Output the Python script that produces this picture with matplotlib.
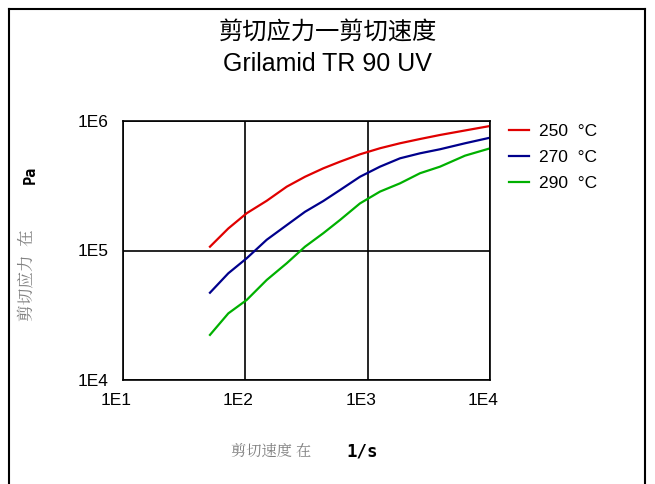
import numpy as np
import matplotlib.pyplot as plt
import matplotlib.transforms as mtransforms
from matplotlib.lines import Line2D

plt.rcParams['font.family'] = ['Liberation Sans', 'Noto Sans CJK SC', 'DejaVu Sans']

# data
shear_rate = [51.4, 72.6, 102.6, 149.5, 217.9, 307.4, 433.7, 594, 865,
              1261, 1837, 2678, 3902, 6249, 10000]
stress_250 = [1.07e5, 1.48e5, 1.94e5, 2.42e5, 3.11e5, 3.71e5, 4.31e5, 4.85e5, 5.53e5,
              6.16e5, 6.73e5, 7.26e5, 7.80e5, 8.45e5, 9.15e5]
stress_270 = [4.72e4, 6.67e4, 8.71e4, 1.21e5, 1.57e5, 1.99e5, 2.41e5, 2.93e5, 3.71e5,
              4.44e5, 5.15e5, 5.63e5, 6.05e5, 6.73e5, 7.43e5]
stress_290 = [2.23e4, 3.27e4, 4.15e4, 5.92e4, 7.97e4, 1.07e5, 1.36e5, 1.72e5, 2.31e5,
              2.85e5, 3.30e5, 3.95e5, 4.44e5, 5.40e5, 6.15e5]
labels = ['250  °C', '270  °C', '290  °C']
colors = ['#e00000', '#00008c', '#00b000']
x_ticks = [10, 100, 1000, 10000]
x_labels = ['1E1', '1E2', '1E3', '1E4']
y_ticks = [1e4, 1e5, 1e6]
y_labels = ['1E4', '1E5', '1E6']

fig = plt.figure(figsize=(6.55, 4.84), dpi=100)
ax = fig.add_axes([123/655, 1-380/484, (490-123)/655, (380-121)/484])

for ys, lab, c in zip([stress_250, stress_270, stress_290], labels, colors):
    ax.plot(shear_rate, ys, color=c, lw=1.6, label=lab)

ax.set_xscale('log')
ax.set_yscale('log')
ax.set_xlim(10, 10000)
ax.set_ylim(1e4, 1e6)
ax.set_xticks(x_ticks)
ax.set_xticklabels(x_labels)
ax.set_yticks(y_ticks)
ax.set_yticklabels(y_labels)
ax.minorticks_off()
ax.tick_params(length=0, labelsize=12.5)
ax.tick_params(axis='y', pad=10.5)
ax.tick_params(axis='x', pad=9.5)
shift = mtransforms.ScaledTranslation(-7/100, 0, fig.dpi_scale_trans)
for lbl in ax.get_xticklabels():
    lbl.set_transform(lbl.get_transform() + shift)
ax.grid(True, color='black', lw=1.2)
for sp in ax.spines.values():
    sp.set_linewidth(1.2)

leg = ax.legend(loc='upper left', bbox_to_anchor=(1.0, 1.06), frameon=False,
                fontsize=12.5, handlelength=1.15, handletextpad=0.6, labelspacing=0.62,
                borderaxespad=0.68)

fig.text(0.5, 1-32/484, '剪切应力一剪切速度', ha='center', va='center', fontsize=17.5,
         family=['Noto Sans CJK SC'])
fig.text(0.5, 1-64/484, 'Grilamid TR 90 UV', ha='center', va='center', fontsize=18)

# axis labels: chinese part in gray, unit in black
fig.text(28/655, 1-275/484, '剪切应力  在', rotation=90, ha='center', va='center',
         fontsize=12, color='#808080', family=['Noto Serif CJK SC', 'Noto Sans CJK SC'])
fig.text(30/655, 1-175/484, 'Pa', rotation=90, ha='center', va='center',
         fontsize=11, color='black', family=['DejaVu Sans Mono'], weight='bold')
fig.text(271/655, 1-452/484, '剪切速度 在', ha='center', va='center',
         fontsize=11, color='#808080', family=['Noto Serif CJK SC', 'Noto Sans CJK SC'])
fig.text(362/655, 1-452/484, '1/s', ha='center', va='center',
         fontsize=12.5, color='black', family=['DejaVu Sans Mono'], weight='bold')

# outer frame, open at the bottom
fx0, fx1, fy1 = 9/655, 645/655, 1-9/484
for xs, ys in [([fx0, fx0], [0, fy1]), ([fx1, fx1], [0, fy1]), ([fx0, fx1], [fy1, fy1])]:
    fig.add_artist(Line2D(xs, ys, color='black', lw=1.5, transform=fig.transFigure))

fig.savefig('out.png', dpi=100)
